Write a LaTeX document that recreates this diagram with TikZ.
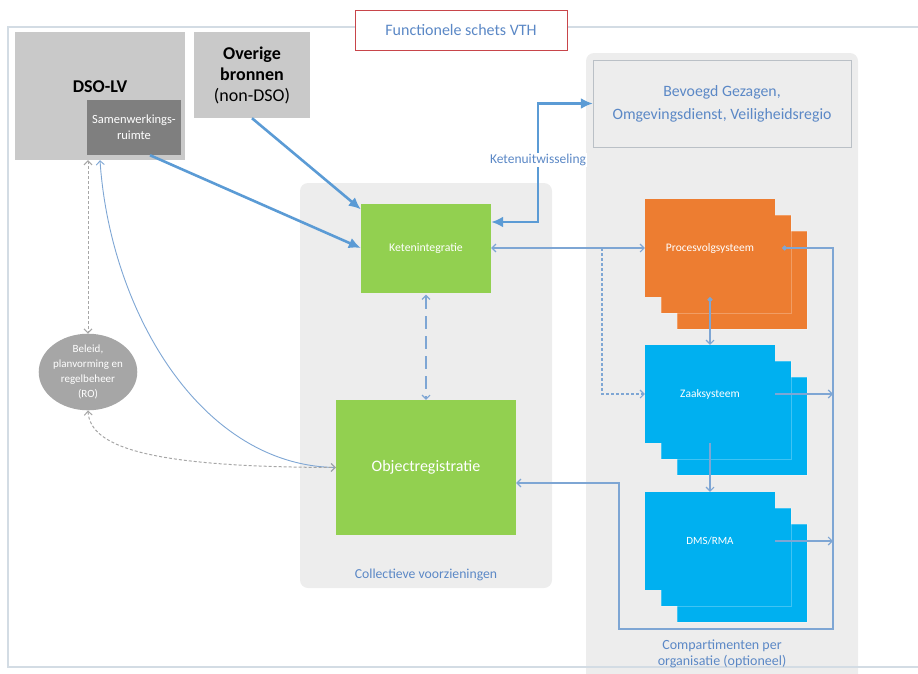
\documentclass[tikz,border=0pt]{standalone}
\usepackage{fontspec}
\setmainfont{Carlito}
\usetikzlibrary{arrows.meta,shapes.geometric,positioning}
\definecolor{panelgray}{HTML}{EDEDED}
\definecolor{boxgray}{HTML}{C9C9C9}
\definecolor{samengray}{HTML}{7F7F7F}
\definecolor{ovalgray}{HTML}{A6A6A6}
\definecolor{linkgreen}{HTML}{92D050}
\definecolor{procorange}{HTML}{ED7D31}
\definecolor{zaakblue}{HTML}{00B0F0}
\definecolor{thickblue}{HTML}{5B9BD5}
\definecolor{thinblue}{HTML}{7EA6D4}
\definecolor{textblue}{HTML}{5B88C6}
\definecolor{framegray}{HTML}{D3DCE4}
\definecolor{titlered}{HTML}{C8454A}
\newcommand{\fsz}[2]{\fontsize{#1}{#2}\selectfont}
\tikzset{barb/.tip={Straight Barb[length=4pt,width=8pt]},
    bigtip/.tip={Latex[length=12pt,width=11pt]}}
\begin{document}
\begin{tikzpicture}[x=1pt, y=-1pt,
    panel/.style={fill=panelgray, rounded corners=8pt, inner sep=0pt},
    solidbox/.style={inner sep=2pt, align=center, text=white},
    thickarrow/.style={thickblue, line width=2.6pt, -{bigtip}},
    thinlink/.style={thinblue, line width=1.1pt},
    grayrun/.style={ovalgray, line width=1pt, dash pattern=on 3pt off 2pt}]
    \useasboundingbox (0,0) rectangle (918,673);
    % Draw the two panels
    \node[panel, minimum width=252pt, minimum height=405pt] (collectief) at (426,385.5) {};
    \node[panel, minimum width=272pt, minimum height=640pt] (compartiment) at (722,373) {};
    % Draw the outer frame
    \draw[framegray, line width=1.2pt] (918,27) -- (8,27) -- (8,667) -- (918,667);
    % Panel labels
    \node[text=textblue, font=\fsz{13.7}{16}] (collectieflabel) [above=4pt of collectief.south] {Collectieve voorzieningen};
    \node[text=textblue, font=\fsz{14}{16.5}, align=center] (compartimentlabel) at (722,654) {Compartimenten per\\organisatie (optioneel)};
    % Title
    \node[draw=titlered, line width=1pt, fill=white, minimum width=212pt, minimum height=40pt,
          text=textblue, font=\fsz{16}{18}] (titel) at (461,30) {Functionele schets VTH};
    % Sources on the left
    \node[fill=boxgray, minimum width=170pt, minimum height=128pt] (dsolv) at (100,96) {};
    \node[font=\bfseries\fsz{18}{20}] (dsolvtitel) at (100,87) {DSO-LV};
    \node[solidbox, fill=samengray, minimum width=94pt, minimum height=55pt, font=\fsz{12.5}{16}] (samen) at (134,127.5) {Samenwerkings-\\ruimte};
    \node[fill=boxgray, minimum width=116pt, minimum height=86pt, align=center, font=\fsz{18}{21}] (overige) at (252,75)
        {\textbf{Overige}\\\textbf{bronnen}\\(non-DSO)};
    \node[ellipse, fill=ovalgray, minimum width=97pt, minimum height=65pt, inner sep=0pt, align=center,
          text=white, font=\fsz{11}{15}] (beleid) at (88,372) {Beleid,\\planvorming en\\regelbeheer\\(RO)};
    % Organisations
    \node[draw=framegray!70!gray, fill=panelgray, minimum width=258pt, minimum height=87pt, align=center,
          text=textblue, font=\fsz{15.8}{23}] (bevoegd) at (722,103.5) {Bevoegd Gezagen,\\Omgevingsdienst, Veiligheidsregio};
    % Collective facilities
    \node[solidbox, fill=linkgreen, minimum width=130pt, minimum height=89pt, font=\fsz{11.8}{14}] (ketenint) at (426,248) {Ketenintegratie};
    \node[solidbox, fill=linkgreen, minimum width=180pt, minimum height=135pt, font=\fsz{16}{18}] (objreg) at (426,467.5) {Objectregistratie};
    % Stacked systems: back layers first
    \foreach \d in {32,16}{
        \fill[procorange] (645+\d,199+\d) rectangle ++(130,98);
        \fill[zaakblue] (645+\d,345+\d) rectangle ++(130,98);
        \fill[zaakblue] (645+\d,492+\d) rectangle ++(130,98);
        \draw[white, opacity=0.25] (645+\d,199+\d) rectangle ++(130,98);
        \draw[white, opacity=0.25] (645+\d,345+\d) rectangle ++(130,98);
        \draw[white, opacity=0.25] (645+\d,492+\d) rectangle ++(130,98);
    }
    \node[solidbox, fill=procorange, minimum width=130pt, minimum height=98pt, font=\fsz{11.5}{14}] (proc) at (710,248) {Procesvolgsysteem};
    \node[solidbox, fill=zaakblue, minimum width=130pt, minimum height=98pt, font=\fsz{11.5}{14}] (zaak) at (710,394) {Zaaksysteem};
    \node[solidbox, fill=zaakblue, minimum width=130pt, minimum height=98pt, font=\fsz{11}{14}] (dms) at (710,541) {DMS/RMA};
    % Helper points
    \coordinate (splits) at (602,248);
    \coordinate (procdot) at ([xshift=7pt]proc.east);
    \coordinate (busright) at (833,629);
    \coordinate (busleft) at (619,483);
    % Thick supply arrows
    \draw[thickarrow] ([xshift=16pt]samen.south) -- (ketenint.west);
    \draw[thickarrow] (overige.south) -- ([yshift=-6pt]ketenint.north west);
    \draw[thickarrow, {bigtip}-{bigtip}]
        ([yshift=26pt]ketenint.east) -| ([xshift=-55pt]bevoegd.west) -- (bevoegd.west);
    \node[fill=white, inner sep=1pt, text=textblue, font=\fsz{13.5}{15}] (uitwlabel) at (538,160) {Ketenuitwisseling};
    % Thin links
    \draw[thinlink, {barb}-{barb}] (ketenint.east) -- (proc.west);
    \draw[thinlink, dash pattern=on 3pt off 2pt, -{barb}] (splits) |- (zaak.west);
    \draw[thinlink, {barb}-{barb}, dash pattern=on 13pt off 7pt, shorten <=2pt] (ketenint.south) -- (objreg.north);
    \draw[thinlink, {Circle[length=5pt]}-{barb}] (proc.south) -- (zaak.north);
    \draw[thinlink, -{barb}] (zaak.south) -- (dms.north);
    \draw[thinlink, {Circle[length=5pt]}-{barb}] (procdot) -| (busright) -| (busleft) -- ([yshift=-15.5pt]objreg.east);
    \draw[thinlink, -{barb}] (zaak.east) -- (zaak.east -| busright);
    \draw[thinlink, -{barb}] (dms.east) -- (dms.east -| busright);
    % Links on the left
    \draw[grayrun, {barb}-{barb}] ([xshift=-12pt]dsolv.south) -- (beleid.north);
    \draw[thinlink, line width=0.9pt, {barb}-{barb}] (dsolv.south) .. controls (110,310) and (200,465) .. (objreg.west);
    \draw[grayrun, {barb}-{barb}] (beleid.south) .. controls (90,450) and (160,467) .. (objreg.west);
\end{tikzpicture}
\end{document}
